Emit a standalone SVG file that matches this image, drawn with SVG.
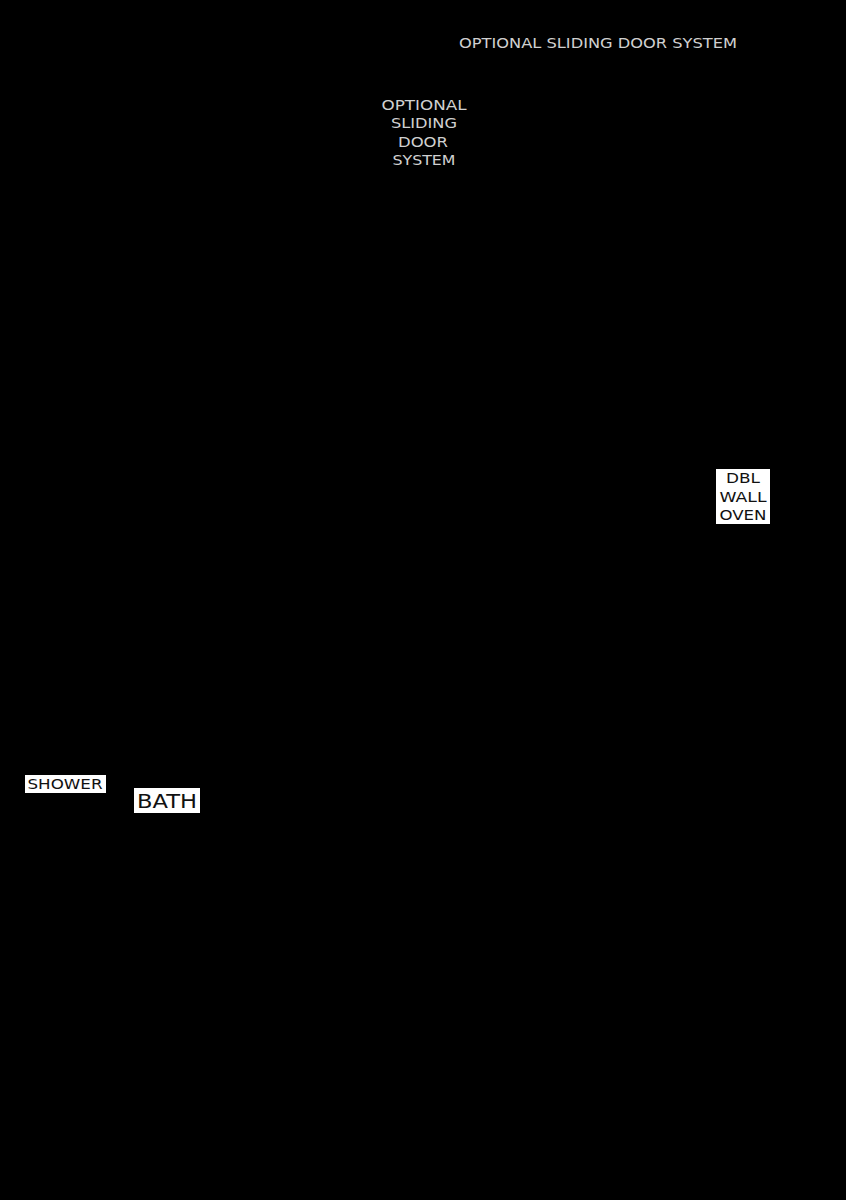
<svg xmlns="http://www.w3.org/2000/svg" width="846" height="1200" viewBox="0 0 846 1200">
<style>
.g{font-family:"DejaVu Sans","Noto Sans",sans-serif;fill:#d0d0d0;text-anchor:middle;font-size:14px}
.k{font-family:"DejaVu Sans","Noto Sans",sans-serif;fill:#111;text-anchor:middle}
.box{fill:#fff}
</style>
<rect x="0" y="0" width="846" height="1200" fill="#000"/>
<g id="sliding-door-top">
<text class="g" x="598" y="48" textLength="278" lengthAdjust="spacingAndGlyphs">OPTIONAL SLIDING DOOR SYSTEM</text>
</g>
<g id="sliding-door-block" class="g">
<text class="g" x="424" y="110" textLength="85" lengthAdjust="spacingAndGlyphs">OPTIONAL</text>
<text class="g" x="424" y="128" textLength="66" lengthAdjust="spacingAndGlyphs">SLIDING</text>
<text class="g" x="423" y="147" textLength="50" lengthAdjust="spacingAndGlyphs">DOOR</text>
<text class="g" x="424" y="165" textLength="63" lengthAdjust="spacingAndGlyphs">SYSTEM</text>
</g>
<g id="oven">
<rect class="box" x="716" y="469" width="54" height="55"/>
<text class="k" x="743" y="483" font-size="14" textLength="34" lengthAdjust="spacingAndGlyphs">DBL</text>
<text class="k" x="743" y="502" font-size="14" textLength="47" lengthAdjust="spacingAndGlyphs">WALL</text>
<text class="k" x="743" y="520" font-size="14" textLength="47" lengthAdjust="spacingAndGlyphs">OVEN</text>
</g>
<g id="shower">
<rect class="box" x="25" y="775" width="81" height="18"/>
<text class="k" x="65" y="789" font-size="14" textLength="75" lengthAdjust="spacingAndGlyphs">SHOWER</text>
</g>
<g id="bath">
<rect class="box" x="134" y="788" width="66" height="25"/>
<text class="k" x="167" y="808" font-size="19" textLength="60" lengthAdjust="spacingAndGlyphs">BATH</text>
</g>
</svg>
